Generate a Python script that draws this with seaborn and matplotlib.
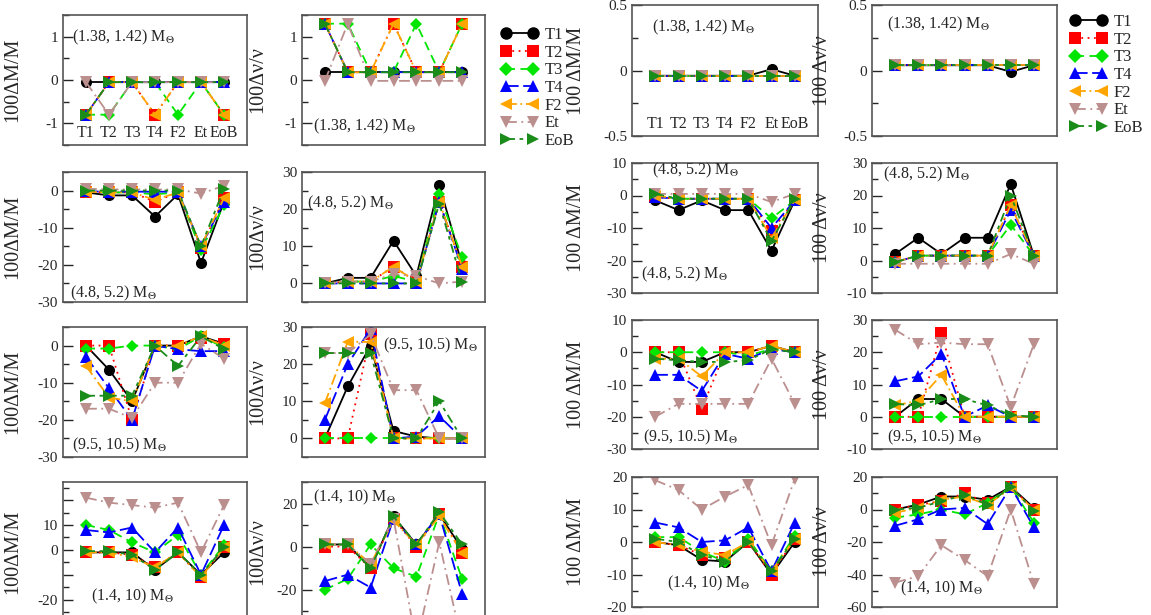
import numpy as np
import pandas as pd
import matplotlib
matplotlib.use("Agg")
import matplotlib.pyplot as plt
from matplotlib.lines import Line2D
from matplotlib.ticker import AutoMinorLocator, FuncFormatter
import seaborn as sns

SERIES = ['T1', 'T2', 'T3', 'T4', 'F2', 'Et', 'EoB']
CATS = ['T1', 'T2', 'T3', 'T4', 'F2', 'Et', 'EoB']

COLORS = {'T1': '#000000', 'T2': '#ff0000', 'T3': '#00e600', 'T4': '#0000ff',
          'F2': '#ffa500', 'Et': '#bc8f8f', 'EoB': '#1a8c1a'}
MARKERS = {'T1': 'o', 'T2': 's', 'T3': 'D', 'T4': '^', 'F2': '<', 'Et': 'v', 'EoB': '>'}
DASHES = {'T1': '', 'T2': (1, 2.5), 'T3': (5, 3), 'T4': (7, 2.5),
          'F2': (6, 2, 1, 2), 'Et': (6, 2.5, 1, 2.5), 'EoB': (5, 2.5, 2, 2.5)}

# left group: rows = series T1..EoB, columns = categories T1..EoB
A_dM_138 = [[-0.05, -0.05, -0.05, -0.05, -0.05, -0.05, -0.05],
            [-0.8, -0.05, -0.05, -0.8, -0.05, -0.05, -0.8],
            [-0.8, -0.8, -0.05, -0.05, -0.8, -0.05, -0.8],
            [-0.8, -0.05, -0.05, -0.05, -0.05, -0.05, -0.05],
            [-0.8, -0.05, -0.05, -0.8, -0.05, -0.05, -0.8],
            [-0.05, -0.8, -0.05, -0.05, -0.05, -0.05, -0.05],
            [-0.8, -0.05, -0.05, -0.05, -0.05, -0.05, -0.05]]
A_dnu_138 = [[0.18, 0.18, 0.18, 0.18, 0.18, 0.18, 0.18],
             [1.3, 0.18, 0.18, 1.3, 0.18, 0.18, 1.3],
             [1.3, 1.3, 0.18, 0.18, 1.3, 0.18, 1.3],
             [1.3, 0.18, 0.18, 0.18, 0.18, 0.18, 0.18],
             [1.3, 0.18, 0.18, 1.3, 0.18, 0.18, 1.3],
             [-0.02, 1.3, -0.02, -0.02, -0.02, -0.02, -0.02],
             [1.3, 0.18, 0.18, 0.18, 0.18, 0.18, 0.18]]
A_dM_48 = [[-0.5, -1.3, -1.3, -7, -1, -19.5, -3],
           [-0.3, -0.5, -0.5, -3, -0.5, -15.5, -2],
           [-0.3, -0.5, -0.5, -1, -0.5, -16, -4],
           [-0.2, -0.3, -0.3, -0.3, -0.3, -15, -3],
           [-0.3, -0.5, -0.5, -2.5, -0.5, -15, -2],
           [0.5, 0.3, 0.3, 0.3, 0.3, -0.8, 1.3],
           [0, 0, 0, 0, 0, -15, 0.5]]
A_dnu_48 = [[0, 1.5, 1.5, 11.5, 2, 26.5, 5],
            [0, 0.5, 0.5, 4.5, 0.5, 22, 4.5],
            [0, 0.5, 0.5, 2, 0.5, 24, 7],
            [0, 0, 0, 0, 0, 22, 4],
            [0, 0.5, 0.5, 4.5, 0.5, 22, 4.5],
            [0, 0.5, 0.5, 2.5, 2, 0, 0.5],
            [0, 0, 0, 0, 0, 21.5, 0.3]]
A_dM_95 = [[0, -6.5, -15, 0, 0, 2.5, 0.5],
           [0, 0, -20, 0, 0, 2, 0.5],
           [-0.8, -0.8, 0, 0, -1, 2.5, -0.5],
           [-3, -11.5, -20, 0, -1, -1.5, -1.5],
           [-5.5, -14, -15, 0, 0, 2.5, 0],
           [-17, -17, -19.5, -10, -10, 0.5, -3.5],
           [-13.5, -13.5, -13.5, 0, -5.5, 2.5, -1]]
A_dnu_95 = [[0, 14, 25, 2, 0.5, 0, 0],
            [0, 0, 28, 0, 0, 0, 0],
            [0, 0, 0, 0, 0, 0, 0],
            [5, 20, 29.5, 0, 0.5, 6, 0],
            [9.5, 26, 26, 0, 0, 0, 0],
            [23, 23, 28, 13, 13, 0, 0],
            [23, 23, 23, 0, 0, 10, 0]]
A_dM_14 = [[-1, -1, -1, -8, -1, -10, -1],
           [-1, -1, -2, -7, -1, -11, 1],
           [10, 8, 3, -1, 6, -10, 2],
           [8, 7, 9, -1, 9, -10, 10],
           [-1, -1, -3, -7, -1, -11, 1],
           [21, 19, 18, 17, 19, -1, 18],
           [-0.5, -0.5, -2, -8, -1, -10, 1]]
A_dnu_14 = [[1, 1, -10, 14, 1, 15, -1],
            [0, 0, -10, 13, 0, 15, -3],
            [-20, -15, 1, -10, -14, 15, -15],
            [-16, -13, -19, 13, 1, 15, -22],
            [1, 1, -8, 12, 1, 14, -3],
            [1, 1, -8, 13, -45, 2, -45],
            [1, 1, -10, 14, 1, 16, 1]]

# right group
B_dM_138 = [[-0.04, -0.04, -0.04, -0.04, -0.04, 0.01, -0.04]] + [[-0.04] * 7 for _ in range(6)]
B_dnu_138 = [[0.04, 0.04, 0.04, 0.04, 0.04, -0.01, 0.04]] + [[0.04] * 7 for _ in range(6)]
B_dM_48 = [[-1.5, -4.5, -1.5, -4.5, -4.5, -17, -1.5],
           [-0.5, -1, -1, -1, -1, -11, -1.5],
           [0, -1, -1, -1, -1, -7, -1.5],
           [-0.5, -1, -1, -1, -1, -10, -1.5],
           [0, -1, -1, -1, -1, -13, -1.5],
           [0.5, 0.5, 0.5, 0.5, 0.5, -2, 0.5],
           [0.5, -1, -1, -1, -1, -14, -1]]
B_dnu_48 = [[2, 7, 2, 7, 7, 23.5, 1.5],
            [-0.5, 1.5, 1.5, 1.5, 1.5, 17, 1.5],
            [-0.5, 1.5, 1.5, 1.5, 1.5, 11, 1.5],
            [-0.5, 1.5, 1.5, 1.5, 1.5, 15.5, 1.5],
            [-0.5, 1.5, 1.5, 1.5, 1.5, 17, 1.5],
            [-1, -1, -1, -1, -1, 2, -1],
            [-0.5, 1.5, 1.5, 1.5, 1.5, 20, 1.5]]
B_dM_95 = [[0, -3, -3, 0, 0, 2, 0],
           [0, 0, -17.5, 0, 0, 2, 0],
           [0, 0, 0, 0, -1, 1, 0],
           [-7, -7, -12, -0.5, -2, 1, 0],
           [-2, -2, -7.5, 0, 0, 2, 0],
           [-20, -16, -16, -16, -16, -2, -16],
           [-2, -2.5, -3, -3, -2.5, 1, 0]]
B_dnu_95 = [[0, 5.5, 5.5, 0, 0, 0, 0],
            [0, 0, 26, 0, 0, 0, 0],
            [0, 0, 0, 0, 0, 0, 0],
            [11, 12.5, 19.5, 0, 3.5, 0, 0],
            [3.5, 5, 13, 0, 0, 0, 0],
            [27, 22.5, 23, 22.5, 22.5, 3, 22.5],
            [4, 3.5, 5.5, 5.5, 3.5, 0.5, 0]]
B_dM_14 = [[0, -1, -5.5, -6, 0, -10, 0],
           [0, -1, -4, -5, 0, -10, 1],
           [1.5, 1.5, -3, -6, 1, -9, 2],
           [6, 4.5, 0, 0.5, 4.5, -9, 6],
           [0, -1, -3, -4, 0, -9, 1],
           [19, 16, 10, 14, 17.5, -1, 19.5],
           [1, 0, -4, -6, 0, -9, 1]]
B_dnu_14 = [[0, 3, 8, 8, 6, 14, 1],
            [0, 3, 5, 10, 4, 14, 0],
            [-5, -3, 0, -3, 4, 14, -8],
            [-10, -6, 0, 1, -9, 14, -11],
            [-2, 1, 6, 8, 3, 13, 0],
            [-45, -41, -22, -31, -41, 0, -46],
            [0, 1, 5, 9, 3, 14, -1]]

W, H = 1151, 615
sns.set_style('ticks')
plt.rcParams['font.family'] = ['Liberation Serif', 'DejaVu Serif']
plt.rcParams['mathtext.fontset'] = 'stix'
plt.rcParams['axes.unicode_minus'] = False

fig = plt.figure(figsize=(W / 100, H / 100), dpi=100)


def make_ax(col, row):
    x, w = col
    y, h = row
    return fig.add_axes([x / W, 1 - (y + h) / H, w / W, h / H])


def draw(ax, values, ylim, yticks, ylabel, labx, note, note_xy, ticklabels=None, cats=False):
    df = pd.DataFrame([(s, i + 1, v) for s, row in zip(SERIES, values) for i, v in enumerate(row)],
                      columns=['series', 'x', 'v'])
    sns.lineplot(data=df, x='x', y='v', hue='series', style='series',
                 hue_order=SERIES, style_order=SERIES, palette=COLORS,
                 markers=MARKERS, dashes=DASHES, markersize=8, linewidth=1.3,
                 markeredgewidth=0, errorbar=None, legend=False, ax=ax)
    for ln in ax.lines:
        if ln.get_marker() == 'D':
            ln.set_markersize(6.5)
    ax.set_xlim(0, 8)
    ax.set_ylim(*ylim)
    ax.set_xticks([])
    ax.set_xlabel('')
    ax.set_yticks(yticks)
    if ticklabels is not None:
        ax.set_yticklabels(ticklabels)
    else:
        ax.yaxis.set_major_formatter(FuncFormatter(lambda v, p: '{:g}'.format(v)))
    ax.yaxis.set_minor_locator(AutoMinorLocator(2))
    ax.tick_params(axis='y', which='major', direction='in', length=7, width=1,
                   labelsize=11, right=False)
    ax.tick_params(axis='y', which='minor', direction='in', length=4, width=1, right=False)
    ax.set_ylabel(ylabel, fontsize=14.5)
    ax.yaxis.set_label_coords(labx, 0.5)
    for sp in ax.spines.values():
        sp.set_color('#555555')
        sp.set_linewidth(1.2)
    ax.text(note_xy[0], note_xy[1], note, transform=ax.transAxes, fontsize=11.5, va='center')
    if cats:
        for i, c in enumerate(CATS):
            ax.text(i + 1, 0.03, c, transform=ax.get_xaxis_transform(),
                    ha='center', va='bottom', fontsize=11.5)


cols = [(63, 184), (302, 183), (632, 186), (872, 185)]
rows_a = [(15, 130), (172, 130), (327, 130), (482, 140)]
rows_b = [(5, 131), (163, 130), (320, 129), (477, 130)]
labx = [-0.22, -0.19, -0.25, -0.215]
M138 = '(1.38, 1.42) M$_\\Theta$'
M48 = '(4.8, 5.2) M$_\\Theta$'
M95 = '(9.5, 10.5) M$_\\Theta$'
M14 = '(1.4, 10) M$_\\Theta$'
lab_a = ['100\u0394M/M', '100\u0394\u03bd/\u03bd']
lab_b = ['100 \u0394M/M', '100 \u0394\u03bd/\u03bd']

# left group
draw(make_ax(cols[0], rows_a[0]), A_dM_138, (-1.5, 1.5), [-1, 0, 1], lab_a[0], labx[0],
     M138, (0.05, 0.83), cats=True)
draw(make_ax(cols[1], rows_a[0]), A_dnu_138, (-1.5, 1.5), [-1, 0, 1], lab_a[1], labx[1],
     M138, (0.06, 0.14))
draw(make_ax(cols[0], rows_a[1]), A_dM_48, (-30, 5), [-30, -20, -10, 0], lab_a[0], labx[0],
     M48, (0.04, 0.07))
draw(make_ax(cols[1], rows_a[1]), A_dnu_48, (-5, 30), [0, 10, 20, 30], lab_a[1], labx[1],
     M48, (0.03, 0.76))
draw(make_ax(cols[0], rows_a[2]), A_dM_95, (-30, 5), [-30, -20, -10, 0], lab_a[0], labx[0],
     M95, (0.05, 0.09))
draw(make_ax(cols[1], rows_a[2]), A_dnu_95, (-5, 30), [0, 10, 20, 30], lab_a[1], labx[1],
     M95, (0.44, 0.86))
draw(make_ax(cols[0], rows_a[3]), A_dM_14, (-29, 27.3), [-20, -10, 0, 10, 20], lab_a[0], labx[0],
     M14, (0.15, 0.18), ticklabels=['-20', '', '0', '10', ''])
draw(make_ax(cols[1], rows_a[3]), A_dnu_14, (-35, 30), [-20, 0, 20], lab_a[1], labx[1],
     M14, (0.06, 0.89))

# right group
draw(make_ax(cols[2], rows_b[0]), B_dM_138, (-0.5, 0.5), [-0.5, 0, 0.5], lab_b[0], labx[2],
     M138, (0.11, 0.83), cats=True)
draw(make_ax(cols[3], rows_b[0]), B_dnu_138, (-0.5, 0.5), [-0.5, 0, 0.5], lab_b[1], labx[3],
     M138, (0.08, 0.85))
ax = make_ax(cols[2], rows_b[1])
draw(ax, B_dM_48, (-30, 10), [-30, -20, -10, 0, 10], lab_b[0], labx[2], M48, (0.11, 0.94))
ax.text(0.05, 0.14, M48, transform=ax.transAxes, fontsize=11.5, va='center')
draw(make_ax(cols[3], rows_b[1]), B_dnu_48, (-10, 30), [-10, 0, 10, 20, 30], lab_b[1], labx[3],
     M48, (0.06, 0.91))
draw(make_ax(cols[2], rows_b[2]), B_dM_95, (-30, 10), [-30, -20, -10, 0, 10], lab_b[0], labx[2],
     M95, (0.06, 0.09))
draw(make_ax(cols[3], rows_b[2]), B_dnu_95, (-10, 30), [-10, 0, 10, 20, 30], lab_b[1], labx[3],
     M95, (0.08, 0.09))
draw(make_ax(cols[2], rows_b[3]), B_dM_14, (-20, 20), [-20, -10, 0, 10, 20], lab_b[0], labx[2],
     M14, (0.19, 0.18))
draw(make_ax(cols[3], rows_b[3]), B_dnu_14, (-60, 20), [-60, -40, -20, 0, 20], lab_b[1], labx[3],
     M14, (0.15, 0.14))

handles = []
for s in SERIES:
    handles.append(Line2D([0], [0], color=COLORS[s], marker=MARKERS[s],
                          markersize=7.5 if s == 'T3' else 9, mew=0, lw=1.3,
                          linestyle=(0, DASHES[s]) if DASHES[s] else '-'))
for bx, by in [(486 / W, 1 - 12 / H), (1055 / W, 1 + 1 / H)]:
    fig.legend(handles, SERIES, loc='upper left', bbox_to_anchor=(bx, by), frameon=False,
               numpoints=2, handlelength=2.2, handletextpad=0.4, labelspacing=0.1, fontsize=12)

fig.savefig('out.png', dpi=100)
